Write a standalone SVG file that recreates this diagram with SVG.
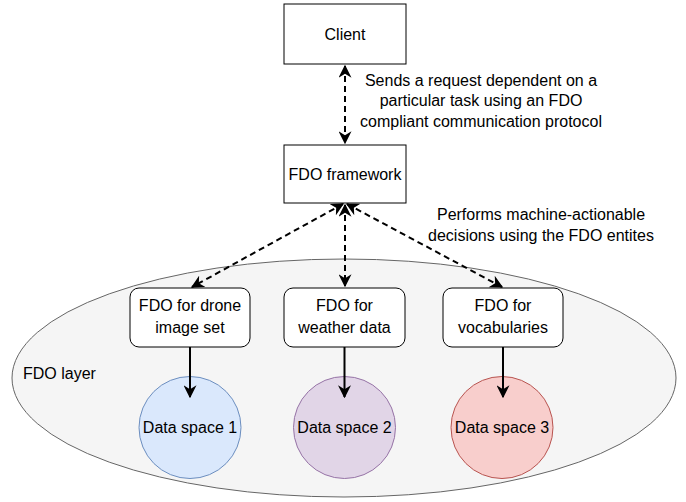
<svg xmlns="http://www.w3.org/2000/svg" width="686" height="502" viewBox="0 0 686 502">
<style>
text{font-family:"Liberation Sans",Arial,sans-serif;font-size:16px;fill:#000}
.c{text-anchor:middle}
.box{fill:#fff;stroke:#000;stroke-width:1}
.dash{stroke:#000;stroke-width:2;fill:none;stroke-dasharray:6 4}
.solid{stroke:#000;stroke-width:2;fill:none}
</style>
<defs>
<marker id="ah" viewBox="0 0 10 10" refX="9" refY="5" markerWidth="6.5" markerHeight="6.5" markerUnits="strokeWidth" orient="auto-start-reverse">
<path d="M0,0 L10,5 L0,10 L3,5 Z" fill="#000"/>
</marker>
</defs>
<g id="fdo-layer">
<ellipse cx="344" cy="378" rx="332" ry="119" fill="#f5f5f5" stroke="#666666" stroke-width="1"/>
<text x="23" y="379">FDO layer</text>
</g>
<g id="client">
<rect class="box" x="284" y="4" width="122" height="60"/>
<text class="c" x="345" y="40">Client</text>
</g>
<g id="fdo-framework">
<rect class="box" x="284" y="145" width="122" height="58"/>
<text class="c" x="345" y="180">FDO framework</text>
</g>
<g id="fdo-drone">
<rect class="box" x="130" y="288" width="120" height="59" rx="9"/>
<text class="c" x="190" y="311">FDO for drone</text>
<text class="c" x="190" y="333">image set</text>
</g>
<g id="fdo-weather">
<rect class="box" x="284" y="288" width="121" height="59" rx="9"/>
<text class="c" x="344.5" y="311">FDO for</text>
<text class="c" x="344.5" y="333">weather data</text>
</g>
<g id="fdo-vocab">
<rect class="box" x="443" y="288" width="120" height="59" rx="9"/>
<text class="c" x="503" y="311">FDO for</text>
<text class="c" x="503" y="333">vocabularies</text>
</g>
<g id="ds1">
<circle cx="190" cy="427.5" r="51" fill="#dae8fc" stroke="#6c8ebf"/>
<text class="c" x="190" y="433">Data space 1</text>
</g>
<g id="ds2">
<circle cx="344.5" cy="427.5" r="51" fill="#e1d5e7" stroke="#9673a6"/>
<text class="c" x="344.5" y="433">Data space 2</text>
</g>
<g id="ds3">
<circle cx="502" cy="427.5" r="51" fill="#f8cecc" stroke="#b85450"/>
<text class="c" x="502" y="433">Data space 3</text>
</g>
<g id="connectors">
<line class="dash" x1="345" y1="66" x2="345" y2="143" marker-start="url(#ah)" marker-end="url(#ah)"/>
<line class="dash" x1="345" y1="205" x2="345" y2="286" marker-start="url(#ah)" marker-end="url(#ah)"/>
<line class="dash" x1="343" y1="204" x2="192" y2="287" marker-start="url(#ah)" marker-end="url(#ah)"/>
<line class="dash" x1="347" y1="204" x2="502" y2="287" marker-start="url(#ah)" marker-end="url(#ah)"/>
<line class="solid" x1="190" y1="347" x2="190" y2="397" marker-end="url(#ah)"/>
<line class="solid" x1="344.5" y1="347" x2="344.5" y2="397" marker-end="url(#ah)"/>
<line class="solid" x1="503" y1="347" x2="503" y2="397" marker-end="url(#ah)"/>
</g>
<g id="labels">
<text class="c" x="481" y="86">Sends a request dependent on a</text>
<text class="c" x="481" y="106">particular task using an FDO</text>
<text class="c" x="481" y="127">compliant communication protocol</text>
<text class="c" x="541" y="220">Performs machine-actionable</text>
<text class="c" x="541" y="241">decisions using the FDO entites</text>
</g>
</svg>
